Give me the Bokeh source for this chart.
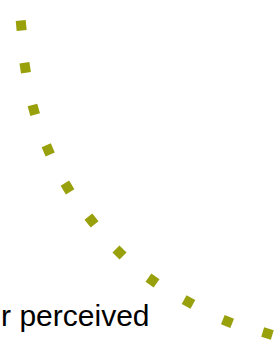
import numpy as np
from bokeh.plotting import figure
from bokeh.models import Range1d
from bokeh.core.properties import value
from bokeh.embed import file_html
from bokeh.resources import INLINE

# curve samples (the dotted series)
curve_x = [2.07, 2.47, 3.33, 4.77, 6.7, 9.1, 11.9, 15.2, 18.8, 22.7, 26.7]
curve_y = [32.3, 28.07, 23.87, 19.87, 16.1, 12.8, 9.6, 6.8, 4.65, 2.7, 1.5]

label_text = ["r perceived"]
label_x = [14.9]
label_y = [3.3]

p = figure(width=278, height=348, output_backend="svg", toolbar_location=None,
           x_range=Range1d(0.0, 27.8), y_range=Range1d(0.0, 34.8),
           min_border=0, outline_line_color=None, background_fill_color="white",
           border_fill_color="white")
p.axis.visible = False
p.grid.visible = False

cx = np.array(curve_x)
cy = np.array(curve_y)
gx = np.gradient(cx)
gy = np.gradient(cy)
angles = np.arctan2(gy, gx)

p.rect(x=curve_x, y=curve_y, width=10, height=10, width_units="screen",
       height_units="screen", angle=angles, fill_color="#98a00c", line_color=None)

p.text(x=label_x, y=label_y, text=label_text, text_align="right",
       text_baseline="alphabetic", text_font=value("Liberation Sans"),
       text_font_size="30px", text_color="black")

open("out.html", "w").write(file_html(p, INLINE))
